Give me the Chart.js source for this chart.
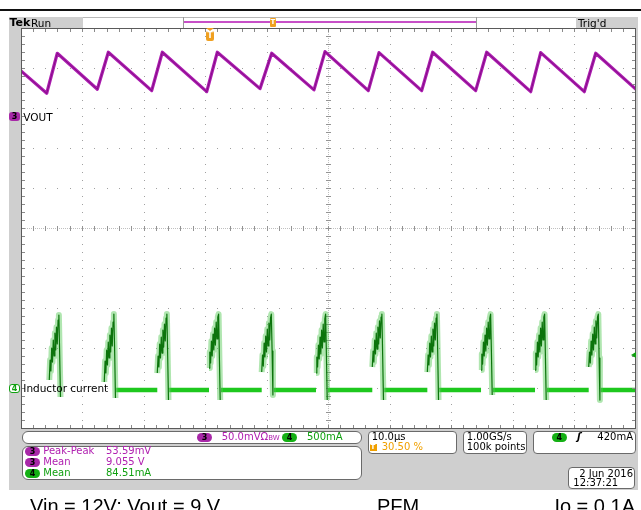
<!DOCTYPE html>
<html><head><meta charset="utf-8">
<script src="https://cdn.jsdelivr.net/npm/chart.js@4"></script>
<style>
html,body{margin:0;padding:0;background:#fff;}
#wrap{position:relative;width:641px;height:510px;overflow:hidden;font-family:"DejaVu Sans",sans-serif;}
.a{position:absolute;}
#topline{left:0;top:9px;width:641px;height:2px;background:#111;}
#frame{left:9px;top:17px;width:629px;height:473px;background:#cfcfcf;}
#c{position:absolute;left:0;top:0;}
.t{position:absolute;font-size:10px;line-height:10px;white-space:pre;color:#000;}
.box{position:absolute;background:#fff;border:1px solid #6a6a6a;border-radius:4px;box-sizing:border-box;}
.pill{position:absolute;width:15px;height:9px;border-radius:5px;font-size:8px;line-height:9px;text-align:center;font-weight:bold;color:#000;}
.pu{color:#b020b0;} .gr{color:#10a010;} .or{color:#f0a000;}
.cap{position:absolute;font-family:"Liberation Sans",Arial,sans-serif;font-size:20px;line-height:20px;color:#000;white-space:pre;top:495.7px;}
</style></head>
<body>
<div id="wrap">
  <div class="a" id="topline"></div>
  <div class="a" id="frame"></div>
  <canvas id="c" width="641" height="510"></canvas>

  <!-- header -->
  <div class="a" style="left:83px;top:17px;width:493px;height:11px;background:#fff;border-top:1px solid #b8b8b8;box-sizing:border-box;"></div>
  <div class="a" style="left:183px;top:17px;width:294px;height:11px;border-left:1px solid #999;border-right:1px solid #999;box-sizing:border-box;"></div>
  <div class="a" style="left:184px;top:21px;width:292px;height:2px;background:#c850c8;"></div>
  <div class="a" style="left:270px;top:18px;width:6px;height:9px;background:#f0a020;border-radius:1px;color:#fff;font-size:7px;line-height:9px;text-align:center;font-weight:bold;">T</div>
  <div class="a" style="left:206px;top:28px;width:0;height:0;border-left:4px solid transparent;border-right:4px solid transparent;border-top:3px solid #f0a020;"></div>
  <div class="a" style="left:206px;top:31px;width:8px;height:10px;background:#f0a020;border-radius:2px;color:#fff;font-size:8px;line-height:10px;text-align:center;font-weight:bold;">T</div>
  <div class="t" style="left:9.5px;top:17.6px;font-weight:bold;font-size:11px;">Tek</div>
  <div class="t" style="left:31px;top:18.2px;font-size:10.5px;">Run</div>
  <div class="t" style="left:578px;top:18.2px;font-size:10.5px;">Trig'd</div>

  <!-- channel markers -->
  <div class="pill" style="left:9px;top:112px;width:11px;border-radius:3px;background:#a828a8;">3</div>
  <div class="t" style="left:23.3px;top:111.5px;font-size:10.5px;">VOUT</div>
  <div class="pill gr" style="left:9px;top:384px;width:11px;border-radius:3px;background:#fff;border:1px solid #10a010;box-sizing:border-box;line-height:7px;">4</div>
  <div class="t" style="left:23.3px;top:383.2px;font-size:10.5px;">Inductor current</div>
  <div class="a" style="left:631px;top:352px;width:0;height:0;border-top:3px solid transparent;border-bottom:3px solid transparent;border-right:5px solid #10a010;"></div>

  <!-- bottom boxes -->
  <div class="box" style="left:22px;top:431px;width:340px;height:13px;border-radius:6px;"></div>
  <div class="pill" style="left:197px;top:432.5px;background:#a828a8;">3</div>
  <div class="t pu" style="left:221.7px;top:432.2px;">50.0mVΩ<span style="font-size:7px">BW</span></div>
  <div class="pill" style="left:282px;top:432.5px;background:#14b014;">4</div>
  <div class="t gr" style="left:307px;top:432.2px;">500mA</div>

  <div class="box" style="left:22px;top:445.5px;width:340px;height:34px;border-radius:6px;"></div>
  <div class="pill" style="left:25px;top:446.5px;background:#a828a8;">3</div>
  <div class="t pu" style="left:43.3px;top:445.8px;">Peak-Peak</div>
  <div class="t pu" style="left:106px;top:445.8px;">53.59mV</div>
  <div class="pill" style="left:25px;top:457.5px;background:#a828a8;">3</div>
  <div class="t pu" style="left:43.3px;top:457.2px;">Mean</div>
  <div class="t pu" style="left:106px;top:457.2px;">9.055 V</div>
  <div class="pill" style="left:25px;top:468.5px;background:#14b014;">4</div>
  <div class="t gr" style="left:43.3px;top:468.2px;">Mean</div>
  <div class="t gr" style="left:106px;top:468.2px;">84.51mA</div>

  <div class="box" style="left:367.7px;top:431px;width:89px;height:22.5px;"></div>
  <div class="t" style="left:371.7px;top:432.2px;">10.0µs</div>
  <div class="a" style="left:369.5px;top:443.5px;width:7px;height:7.5px;background:#f0a000;color:#fff;font-size:7px;line-height:7.5px;text-align:center;font-weight:bold;">T</div>
  <div class="t or" style="left:381.7px;top:442.2px;">30.50 %</div>

  <div class="box" style="left:462.7px;top:431px;width:64.6px;height:22.5px;"></div>
  <div class="t" style="left:466.7px;top:432.2px;">1.00GS/s</div>
  <div class="t" style="left:466.7px;top:442.2px;">100k points</div>

  <div class="box" style="left:532.7px;top:431px;width:103.3px;height:22.5px;"></div>
  <div class="pill" style="left:551.7px;top:432.5px;background:#14b014;">4</div>
  <div class="t" style="left:577px;top:432.2px;font-style:italic;font-weight:bold;">ʃ</div>
  <div class="t" style="right:8px;top:432.2px;">420mA</div>

  <div class="box" style="left:568.3px;top:467.3px;width:67px;height:22px;"></div>
  <div class="t" style="right:8px;top:468.8px;">2 Jun 2016</div>
  <div class="t" style="left:573.3px;top:477.5px;">12:37:21</div>

  <!-- caption -->
  <div class="cap" style="left:30px;">Vin = 12V; Vout = 9 V</div>
  <div class="cap" style="left:377px;">PFM</div>
  <div class="cap" style="right:6px;">Io = 0.1A</div>
</div>
<script>
// ---- Data ----
// Channel 3: VOUT (volts) at sawtooth corners
const voutTimeUs = [0, 4.18, 5.90, 12.41, 14.20, 21.25, 22.98, 30.20, 31.92, 38.86, 40.76, 47.64, 49.43, 56.47, 58.21, 65.15, 66.94, 73.93, 75.72, 82.88, 84.50, 91.59, 93.45, 100];
const voutV = [9.0562, 9.0284, 9.0783, 9.0334, 9.0796, 9.0317, 9.0796, 9.0304, 9.0796, 9.0342, 9.0783, 9.0326, 9.0803, 9.0317, 9.0791, 9.0317, 9.0796, 9.0317, 9.0796, 9.0304, 9.0791, 9.0304, 9.0783, 9.0334];

// Channel 4: inductor current (mA) - PFM pulses, each sampled at a fixed interval
const pulseStartUs = [4.60, 13.54, 22.16, 30.57, 39.14, 47.97, 57.12, 66.07, 74.80, 83.58, 92.31];
const pulseSampleIntervalUs = 0.13;
const pulseCurrentMA = [
  [125, 374, 237, 524, 349, 624, 424, 711, 499, 786, 574, 873, 935, 436, -87],
  [100, 362, 212, 499, 312, 599, 399, 686, 474, 773, 549, 848, 947, 474, -100],
  [212, 424, 287, 574, 399, 661, 461, 748, 536, 823, 611, 898, 947, 424, -125],
  [274, 474, 337, 611, 424, 698, 499, 773, 561, 848, 636, 910, 947, 399, -125],
  [224, 437, 299, 586, 412, 673, 474, 761, 549, 836, 624, 898, 947, 486, -62],
  [212, 411, 287, 561, 387, 661, 449, 748, 524, 823, 599, 885, 947, 436, -125],
  [287, 486, 349, 624, 449, 711, 511, 786, 574, 861, 649, 910, 947, 412, -125],
  [224, 437, 312, 586, 412, 673, 474, 761, 549, 836, 624, 898, 947, 449, -125],
  [249, 449, 324, 599, 424, 686, 486, 773, 561, 848, 636, 898, 947, 474, -62],
  [249, 461, 312, 599, 412, 686, 474, 773, 549, 848, 624, 910, 947, 424, -125],
  [287, 474, 337, 611, 436, 698, 499, 786, 574, 861, 649, 910, 947, 399, -125]
];
// Flat (zero-current) segments between pulses
const baselineStartUs = [15.49, 24.11, 32.52, 41.09, 49.92, 59.07, 68.02, 76.75, 85.53, 94.26];
const baselineEndUs   = [22.16, 30.57, 39.14, 47.97, 57.12, 66.07, 74.80, 83.58, 92.31, 100];
const baselineMA      = [0, 0, 0, 0, 0, 0, 0, 0, 0, 0];

// Scope settings (axes)
const timePerDivUs = 10, hDivs = 10, vDivs = 10;
const voutVoltsPerDiv = 0.05, voutScreenCenterV = 8.8598;
const currMAPerDiv = 500, currScreenCenterMA = 2014;

// ---- Build datasets ----
const voutData = voutTimeUs.map((t, i) => ({x: t, y: voutV[i]}));
const pulseData = [];
pulseStartUs.forEach((t0, p) => {
  pulseCurrentMA[p].forEach((v, j) => pulseData.push({x: t0 + j * pulseSampleIntervalUs, y: v}));
  pulseData.push({x: t0 + pulseCurrentMA[p].length * pulseSampleIntervalUs, y: null});
});
const baseData = [];
baselineStartUs.forEach((s, i) => {
  baseData.push({x: s, y: baselineMA[i]});
  baseData.push({x: baselineEndUs[i], y: baselineMA[i]});
  baseData.push({x: baselineEndUs[i] + 0.01, y: null});
});

const tekGrid = {
  id: 'tekGrid',
  beforeDatasetsDraw(chart) {
    const {ctx, chartArea: a} = chart;
    const sx = chart.scales.x, sd = chart.scales.div;
    ctx.save();
    ctx.fillStyle = '#ffffff';
    ctx.fillRect(a.left, a.top, a.right - a.left, a.bottom - a.top);
    const minorY = [], minorX = [];
    for (let m = 1; m < vDivs * 5; m++) minorY.push(Math.floor(sd.getPixelForValue(vDivs / 2 - m * 0.2)));
    for (let m = 1; m < hDivs * 5; m++) minorX.push(Math.floor(sx.getPixelForValue(m * timePerDivUs / 5)));
    ctx.fillStyle = '#a0a0a0';
    for (let k = 1; k < hDivs; k++) {
      if (k === hDivs / 2) continue;
      const x = Math.floor(sx.getPixelForValue(k * timePerDivUs));
      minorY.forEach(y => ctx.fillRect(x, y, 1, 1));
    }
    for (let k = -vDivs / 2 + 1; k < vDivs / 2; k++) {
      if (k === 0) continue;
      const y = Math.floor(sd.getPixelForValue(k));
      minorX.forEach(x => ctx.fillRect(x, y, 1, 1));
    }
    const cx = Math.floor(sx.getPixelForValue(hDivs / 2 * timePerDivUs));
    const cy = Math.floor(sd.getPixelForValue(0));
    ctx.fillStyle = '#c0c0c0';
    for (let y = a.top; y < a.bottom; y += 2) ctx.fillRect(cx, y, 1, 1);
    for (let x = a.left; x < a.right; x += 2) ctx.fillRect(x, cy, 1, 1);
    ctx.fillStyle = '#949494';
    minorY.forEach(y => ctx.fillRect(cx - 2, y, 5, 1));
    minorX.forEach(x => ctx.fillRect(x, cy - 2, 1, 5));
    ctx.restore();
  },
  afterDatasetsDraw(chart) {
    const {ctx, chartArea: a} = chart;
    const sx = chart.scales.x, sd = chart.scales.div;
    ctx.save();
    ctx.fillStyle = '#8a8a8a';
    for (let m = 1; m < hDivs * 5; m++) {
      const x = Math.floor(sx.getPixelForValue(m * timePerDivUs / 5));
      ctx.fillRect(x, a.top, 1, 4);
      ctx.fillRect(x, a.bottom - 4, 1, 4);
    }
    for (let m = 1; m < vDivs * 5; m++) {
      const y = Math.floor(sd.getPixelForValue(vDivs / 2 - m * 0.2));
      ctx.fillRect(a.left, y, 4, 1);
      ctx.fillRect(a.right - 4, y, 4, 1);
    }
    ctx.strokeStyle = '#5a5a5a';
    ctx.lineWidth = 1;
    ctx.strokeRect(a.left + 0.5, a.top + 0.5, a.right - a.left - 1, a.bottom - a.top - 1);
    ctx.restore();
  }
};

new Chart(document.getElementById('c'), {
  type: 'line',
  data: {
    datasets: [
      {data: voutData, xAxisID: 'x', yAxisID: 'y3', borderColor: 'rgba(95,0,95,0.5)', borderWidth: 1, order: 1},
      {data: voutData, xAxisID: 'x', yAxisID: 'y3', borderColor: '#ac1cb0', borderWidth: 3.2, order: 2},
      {data: pulseData, xAxisID: 'x', yAxisID: 'y4', borderColor: '#0c740c', borderWidth: 1.2, order: 3},
      {data: pulseData, xAxisID: 'x', yAxisID: 'y4', borderColor: 'rgba(80,200,80,0.45)', borderWidth: 6, order: 4},
      {data: baseData, xAxisID: 'x', yAxisID: 'y4', borderColor: '#1ec81e', borderWidth: 4.5, order: 5}
    ]
  },
  options: {
    responsive: false, animation: false, events: [],
    parsing: false, spanGaps: false,
    layout: {padding: {left: 21, top: 28, right: 5, bottom: 81}},
    plugins: {legend: {display: false}, tooltip: {enabled: false}},
    elements: {point: {radius: 0}, line: {tension: 0, borderJoinStyle: 'round'}},
    scales: {
      x: {type: 'linear', min: 0, max: hDivs * timePerDivUs, display: false},
      div: {type: 'linear', axis: 'y', min: -vDivs / 2, max: vDivs / 2, display: false},
      y3: {type: 'linear', min: voutScreenCenterV - vDivs / 2 * voutVoltsPerDiv, max: voutScreenCenterV + vDivs / 2 * voutVoltsPerDiv, display: false},
      y4: {type: 'linear', min: currScreenCenterMA - vDivs / 2 * currMAPerDiv, max: currScreenCenterMA + vDivs / 2 * currMAPerDiv, display: false}
    }
  },
  plugins: [tekGrid]
});
</script>
</body></html>
